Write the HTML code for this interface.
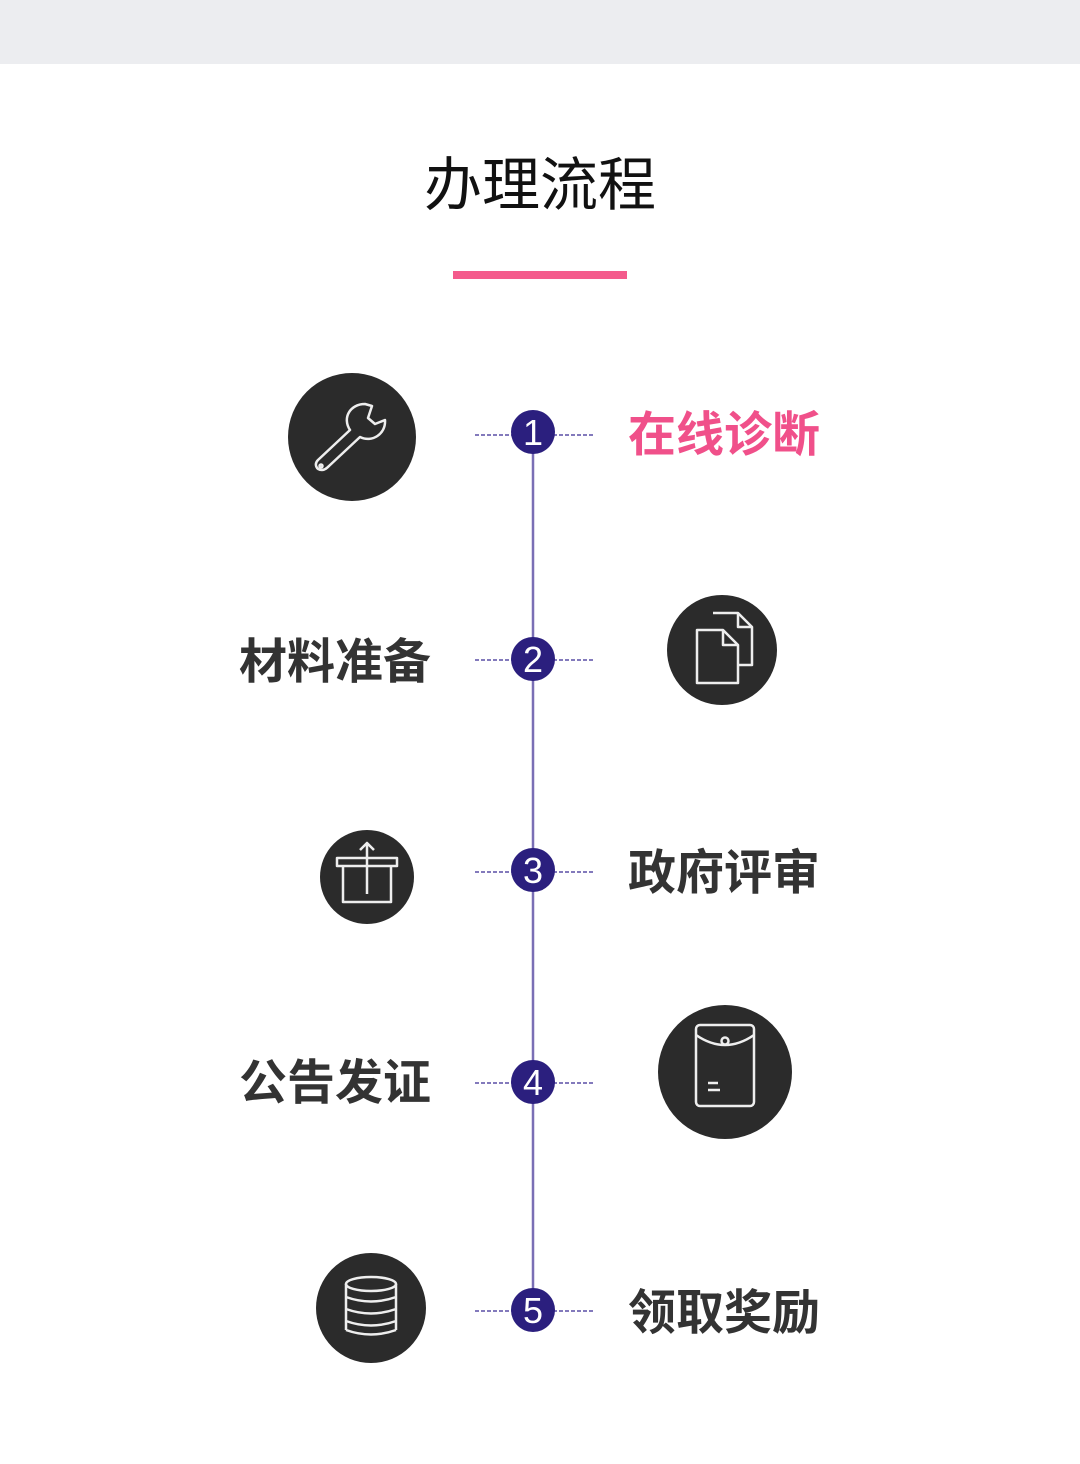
<!DOCTYPE html>
<html><head><meta charset="utf-8"><style>
body{margin:0;width:1080px;height:1464px;background:#fff;overflow:hidden;font-family:"Liberation Sans","Noto Sans CJK SC",sans-serif}
</style></head><body>
<svg width="1080" height="1464" xmlns="http://www.w3.org/2000/svg" style="display:block">
<rect x="0" y="0" width="1080" height="64" fill="#ecedf0"/>
<text x="540" y="205" text-anchor="middle" font-size="58" fill="#111" font-family="Liberation Sans, Noto Sans CJK SC, sans-serif">办理流程</text>
<rect x="453" y="271" width="174" height="8" fill="#f45b8c"/>
<line x1="533" y1="432" x2="533" y2="1311" stroke="#7a6fb5" stroke-width="2.5"/>
<g stroke="#5a4fa5" stroke-width="1.5" stroke-dasharray="4,2">
<line x1="475" y1="435" x2="595" y2="435"/>
<line x1="475" y1="660" x2="595" y2="660"/>
<line x1="475" y1="872" x2="595" y2="872"/>
<line x1="475" y1="1083" x2="595" y2="1083"/>
<line x1="475" y1="1311" x2="595" y2="1311"/>
</g>
<g fill="#2b1f7e">
<circle cx="533" cy="432" r="22"/><circle cx="533" cy="659" r="22"/><circle cx="533" cy="870" r="22"/><circle cx="533" cy="1082" r="22"/><circle cx="533" cy="1310" r="22"/>
</g>
<g fill="#fff" font-size="36" text-anchor="middle" font-family="Liberation Sans, sans-serif">
<text x="533" y="445">1</text><text x="533" y="672">2</text><text x="533" y="883">3</text><text x="533" y="1095">4</text><text x="533" y="1323">5</text>
</g>
<g fill="#2b2b2b">
<circle cx="352" cy="437" r="64"/><circle cx="722" cy="650" r="55"/><circle cx="367" cy="877" r="47"/><circle cx="725" cy="1072" r="67"/><circle cx="371" cy="1308" r="55"/>
</g>
<g fill="none" stroke="#eee" stroke-width="2.5" stroke-linejoin="round">
<path d="M365 404 C350 404 342 418 350 430 L318 460 C314 464 316 470 322 470 C325 470 327 468 329 466 L360 437 C372 443 386 434 385 420 L375 424 L368 418 L372 406 Z"/>
<circle cx="321" cy="466" r="1.5"/>
<path d="M713 613 H738 L752 627 V665 H738"/>
<path d="M738 613 V627 H752"/>
<path d="M697 630 H723 L738 645 V683 H697 Z"/>
<path d="M723 630 V645 H738"/>
<path d="M337 858 H397 V866 H337 Z M343 866 V902 H391 V866 M367 894 V843 M360 850 L367 843 L374 850"/>
<rect x="696" y="1025" width="58" height="81" rx="4"/>
<path d="M696 1035 Q725 1055 754 1035"/>
<circle cx="725" cy="1041" r="3.5" fill="#2b2b2b"/>
<path d="M708 1083 H718 M708 1090 H720"/>
<ellipse cx="371" cy="1284" rx="25" ry="7"/>
<path d="M346 1284 V1330 M396 1284 V1330 M346 1297 Q371 1306 396 1297 M346 1309 Q371 1318 396 1309 M346 1321 Q371 1330 396 1321 M346 1330 Q371 1339 396 1330"/>
</g>
<g font-size="48" font-weight="bold" font-family="Liberation Sans, Noto Sans CJK SC, sans-serif" fill="#333">
<text x="628" y="451" fill="#f0508a">在线诊断</text>
<text x="239" y="678">材料准备</text>
<text x="628" y="889">政府评审</text>
<text x="239" y="1099">公告发证</text>
<text x="628" y="1329">领取奖励</text>
</g>
</svg>
</body></html>
